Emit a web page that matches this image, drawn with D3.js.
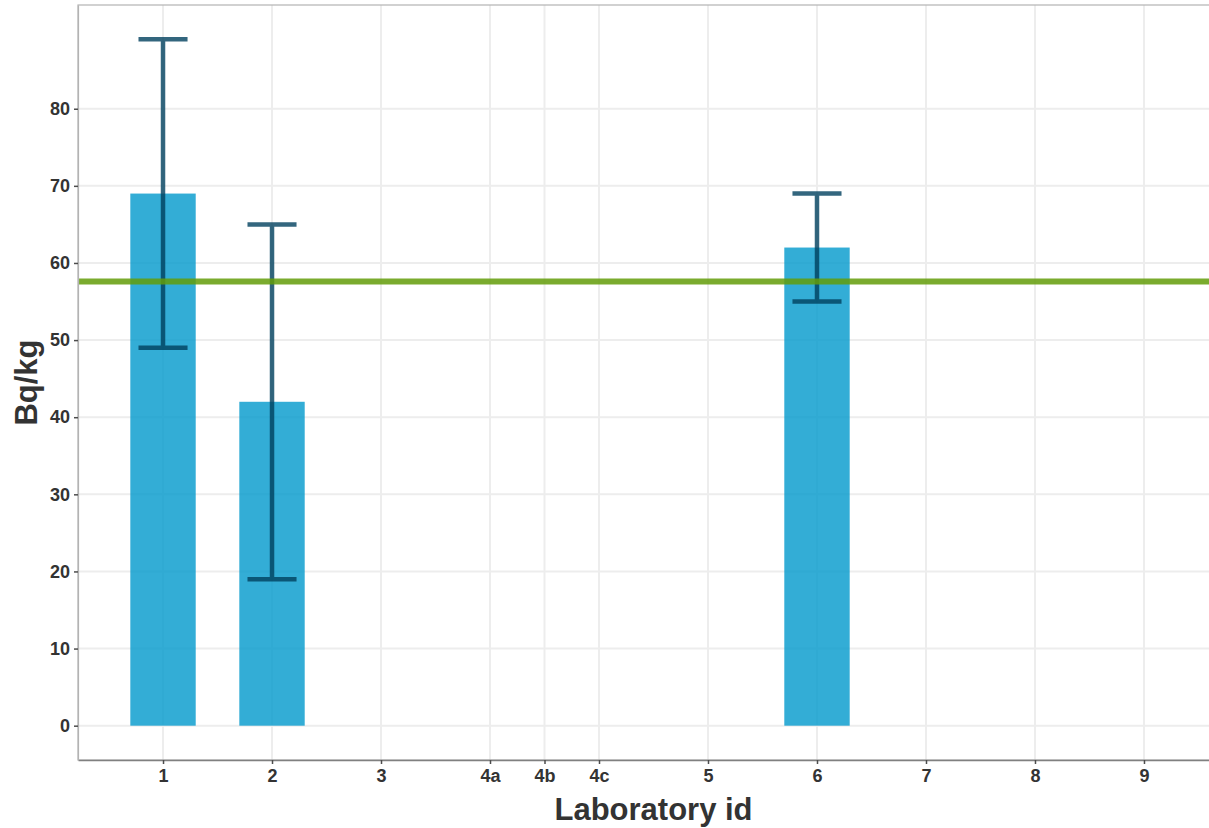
<!DOCTYPE html>
<html><head><meta charset="utf-8">
<script src="https://cdn.jsdelivr.net/npm/d3@7"></script>
<style>body{margin:0;background:#fff;} svg{display:block;}</style>
</head><body>
<script>
// Data
const labLabels = ["1","2","3","4a","4b","4c","5","6","7","8","9"];
const labPositions = [1,2,3,4,4.5,5,6,7,8,9,10];
const values = [69,42,0,0,0,0,0,62,0,0,0];
const errLow = [49,19,null,null,null,null,null,55,null,null,null];
const errHigh = [89,65,null,null,null,null,null,69,null,null,null];
const refValue = 57.6;
const yTicks = [0,10,20,30,40,50,60,70,80];

const W = 1209, H = 828;
const panel = {left: 78, right: 1229, top: 5, bottom: 760};
const barWidth = 0.6, capWidth = 0.45;

const svg = d3.select("body").append("svg").attr("width", W).attr("height", H);

const xMin = d3.min(labPositions) - barWidth/2, xMax = d3.max(labPositions) + barWidth/2;
const xPad = (xMax - xMin) * 0.05;
const x = d3.scaleLinear().domain([xMin - xPad, xMax + xPad]).range([panel.left, panel.right]);
const yMaxData = d3.max(errHigh.filter(v => v != null));
const yPad = yMaxData * 0.05;
const y = d3.scaleLinear().domain([0 - yPad, yMaxData + yPad]).range([panel.bottom, panel.top]);

const font = "'Liberation Sans', Arial, sans-serif";

// gridlines
const g = svg.append("g");
g.selectAll("line.gy").data(yTicks).enter().append("line")
  .attr("x1", panel.left).attr("x2", panel.right)
  .attr("y1", d => y(d)).attr("y2", d => y(d))
  .attr("stroke", "#ededed").attr("stroke-width", 2);
g.selectAll("line.gx").data(labPositions).enter().append("line")
  .attr("x1", d => x(d)).attr("x2", d => x(d))
  .attr("y1", panel.top).attr("y2", panel.bottom)
  .attr("stroke", "#ededed").attr("stroke-width", 2);

// data rows
const rows = labPositions.map((p, i) => ({p, v: values[i], lo: errLow[i], hi: errHigh[i]}));

// bars
svg.append("g").selectAll("rect").data(rows.filter(d => d.v > 0)).enter().append("rect")
  .attr("x", d => x(d.p - barWidth/2)).attr("width", d => x(d.p + barWidth/2) - x(d.p - barWidth/2))
  .attr("y", d => y(d.v)).attr("height", d => y(0) - y(d.v))
  .attr("fill", "#0099cc").attr("fill-opacity", 0.8);

// error bars
const eb = svg.append("g").attr("stroke", "#00405e").attr("stroke-opacity", 0.8).attr("stroke-width", 4.5).attr("fill", "none");
rows.filter(d => d.lo != null).forEach(d => {
  const path = d3.path();
  path.moveTo(x(d.p - capWidth/2), y(d.hi)); path.lineTo(x(d.p + capWidth/2), y(d.hi));
  path.moveTo(x(d.p), y(d.hi)); path.lineTo(x(d.p), y(d.lo));
  path.moveTo(x(d.p - capWidth/2), y(d.lo)); path.lineTo(x(d.p + capWidth/2), y(d.lo));
  eb.append("path").attr("d", path.toString());
});

// reference line
svg.append("line").attr("x1", panel.left).attr("x2", panel.right)
  .attr("y1", y(refValue)).attr("y2", y(refValue))
  .attr("stroke", "#639c09").attr("stroke-opacity", 0.85).attr("stroke-width", 6);

// panel border
svg.append("rect").attr("x", panel.left).attr("y", panel.top)
  .attr("width", panel.right - panel.left).attr("height", panel.bottom - panel.top)
  .attr("fill", "none").attr("stroke", "#b3b3b3").attr("stroke-width", 1.2);

// axes
const xAxis = d3.axisBottom(x).tickValues(labPositions).tickFormat((d, i) => labLabels[i]).tickSize(4).tickSizeOuter(0).tickPadding(5);
const xa = svg.append("g").attr("transform", `translate(0,${panel.bottom})`).call(xAxis);
xa.select(".domain").attr("stroke", "#808080").attr("stroke-width", 1.5);
xa.selectAll(".tick line").attr("stroke", "#4d4d4d").attr("stroke-width", 1.5);
xa.selectAll(".tick text").attr("font-family", font).attr("font-size", 18).attr("font-weight", "bold").attr("fill", "#333");

const yAxis = d3.axisLeft(y).tickValues(yTicks).tickSize(4).tickSizeOuter(0).tickPadding(4);
const ya = svg.append("g").attr("transform", `translate(${panel.left},0)`).call(yAxis);
ya.select(".domain").attr("stroke", "#b3b3b3").attr("stroke-width", 1.2);
ya.selectAll(".tick line").attr("stroke", "#4d4d4d").attr("stroke-width", 1.5);
ya.selectAll(".tick text").attr("font-family", font).attr("font-size", 18).attr("font-weight", "bold").attr("fill", "#333");

// titles
svg.append("text").attr("x", (panel.left + panel.right)/2).attr("y", 820)
  .attr("text-anchor", "middle").attr("font-family", font).attr("font-size", 31).attr("font-weight", "bold").attr("fill", "#333")
  .text("Laboratory id");
svg.append("text").attr("transform", `translate(37,${(panel.top + panel.bottom)/2}) rotate(-90)`)
  .attr("text-anchor", "middle").attr("font-family", font).attr("font-size", 31).attr("font-weight", "bold").attr("fill", "#333")
  .text("Bq/kg");
</script>
</body></html>
